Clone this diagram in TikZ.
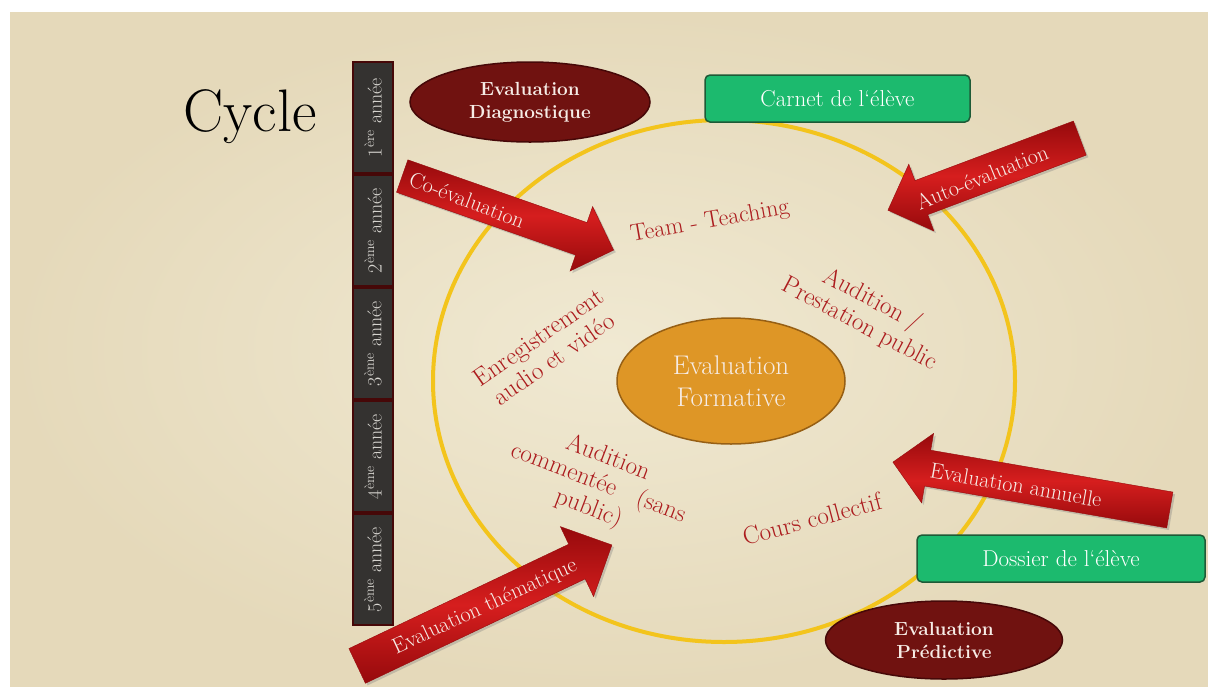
\documentclass[tikz,border=0pt]{standalone}
\usepackage{tikz}
\usetikzlibrary{shapes.geometric,shapes.arrows,shadows}

\definecolor{parchemin}{RGB}{240,233,210}
\definecolor{parcheminb}{RGB}{229,217,186}
\definecolor{bordeaux}{RGB}{112,18,16}
\definecolor{bordeauxf}{RGB}{70,8,8}
\definecolor{rougetxt}{RGB}{172,28,30}
\definecolor{rougevif}{RGB}{214,30,30}
\definecolor{rougefonce}{RGB}{150,10,12}
\definecolor{vert}{RGB}{28,186,110}
\definecolor{vertf}{RGB}{30,90,55}
\definecolor{orangef}{RGB}{222,150,38}
\definecolor{orangeb}{RGB}{150,95,20}
\definecolor{jaune}{RGB}{243,196,28}
\definecolor{gris}{RGB}{52,50,48}
\definecolor{grisclair}{RGB}{215,213,208}
\definecolor{blanccasse}{RGB}{246,236,230}

\begin{document}
\begin{tikzpicture}[x=1pt,y=-1pt,
  annee/.style={rectangle, fill=gris, draw=bordeauxf, line width=1.5,
    minimum width=111, minimum height=40, rotate=90, inner sep=0,
    text=grisclair, font=\fontsize{20}{22}\selectfont},
  bulle/.style={ellipse, fill=bordeaux, draw=bordeauxf, line width=1.5,
    align=center, text=blanccasse, font=\bfseries\fontsize{19}{23}\selectfont},
  carnet/.style={rectangle, rounded corners=5, fill=vert, draw=vertf,
    line width=1.5, text=white, font=\fontsize{23}{25}\selectfont},
  fleche/.style={single arrow, inner xsep=0, anchor=tail,
    top color=rougefonce, bottom color=rougefonce, middle color=rougevif,
    draw=rougefonce, drop shadow={opacity=0.35}},
  txtfleche/.style={text=blanccasse, font=\fontsize{22}{24}\selectfont},
  lbl/.style={text=rougetxt, align=center, font=\fontsize{25}{27}\selectfont}]

% fond parchemin
\useasboundingbox (0,0) rectangle (1208,686);
\fill[white] (0,0) rectangle (1208,686);
\shade[inner color=parchemin, outer color=parcheminb] (10,12) rectangle (1208,686);

% titre
\node[anchor=base, font=\fontsize{60}{60}\selectfont] (titre) at (250,131) {Cycle};

% colonne des annees
\foreach \k/\e in {1/ère,2/ème,3/ème,4/ème,5/ème}
{\node[annee] (an\k) at (373,{117.5+113*(\k-1)}) {\k\textsuperscript{\e} année};}

% grand cercle
\node[ellipse, draw=jaune, line width=4, minimum width=582, minimum height=522] (cercle) at (724,381) {};

% activites autour du centre
\node[lbl, rotate=10, font=\fontsize{24}{26}\selectfont] (team) at (710,222) {Team - Teaching};
\node[lbl, rotate=-28] (prest) at (866,312) {Audition /\\Prestation public};
\node[lbl, rotate=35] (enreg) at (546,348) {Enregistrement\\audio et vidéo};
\node[lbl, rotate=-21] (comm) at (598,484) {Audition\\commentée~~~(sans\\public)};
\node[lbl, rotate=15] (cours) at (812,519) {Cours collectif};

% centre
\node[ellipse, fill=orangef, draw=orangeb, line width=1.5, minimum width=228, minimum height=126,
  align=center, text=blanccasse, font=\fontsize{27}{32}\selectfont] (form) at (731,381) {Evaluation\\Formative};

% boites vertes
\node[carnet, minimum width=265, minimum height=47] (carnet) at (837.5,98.5) {Carnet de l‘élève};
\node[carnet, minimum width=288, minimum height=47] (dossier) at (1061,558.5) {Dossier de l‘élève};

% ellipses bordeaux
\node[bulle, minimum width=240, minimum height=80] (diag) at (530,102) {Evaluation\\Diagnostique};
\node[bulle, minimum width=237, minimum height=78] (pred) at (944,640) {Evaluation\\Prédictive};

% fleches : inner ysep = demi-largeur du corps
\node[fleche, rotate=-19.3, minimum height=224, inner ysep=17, single arrow head extend=17] (coeval) at (402,176) {};
\node[fleche, rotate=200.6, minimum height=205, inner ysep=18, single arrow head extend=17.5] (autoeval) at (1080,138) {};
\node[fleche, rotate=170.2, minimum height=281, inner ysep=18, single arrow head extend=17] (annuelle) at (1170,510) {};
\node[fleche, rotate=25.4, minimum height=282, inner ysep=19, single arrow head extend=19.5] (themat) at (357,666) {};

\node[txtfleche, rotate=-21] (tcoeval) at (467,200) {Co-évaluation};
\node[txtfleche, rotate=22] (tautoeval) at (982,177) {Auto-évaluation};
\node[txtfleche, rotate=-10] (tannuelle) at (1016,485) {Evaluation annuelle};
\node[txtfleche, rotate=25] (tthemat) at (485,607) {Evaluation thématique};

\end{tikzpicture}
\end{document}
